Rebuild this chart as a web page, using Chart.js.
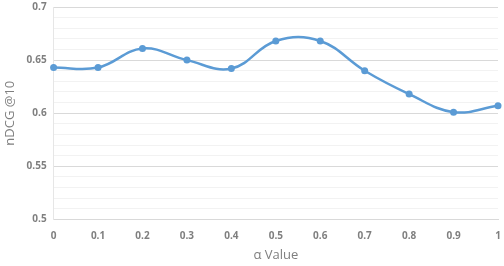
<!DOCTYPE html>
<html>
<head>
<meta charset="utf-8">
<script src="https://cdn.jsdelivr.net/npm/chart.js@4/dist/chart.umd.min.js"></script>
<style>
  html, body { margin: 0; padding: 0; background: #fff; }
  #wrap { width: 504px; height: 266px; }
</style>
</head>
<body>
<div id="wrap"><canvas id="chart" width="504" height="266"></canvas></div>
<script>
// alpha values on the x axis
const alphaLabels = ['0', '0.1', '0.2', '0.3', '0.4', '0.5', '0.6', '0.7', '0.8', '0.9', '1'];
// nDCG@10 for each alpha
const ndcgValues = [0.643, 0.643, 0.661, 0.650, 0.642, 0.668, 0.668, 0.640, 0.618, 0.601, 0.607];
// y axis major ticks
const yMajorTicks = [0.5, 0.55, 0.6, 0.65, 0.7];

const lineBlue = '#5B9BD5';
const tickGray = '#7F7F7F';

function isMajor(v) {
    return yMajorTicks.some(t => Math.abs(t - v) < 1e-6);
}

new Chart(document.getElementById('chart'), {
    type: 'line',
    data: {
        labels: alphaLabels,
        datasets: [{
            label: 'nDCG @10',
            data: ndcgValues,
            borderColor: lineBlue,
            backgroundColor: lineBlue,
            borderWidth: 2.5,
            pointRadius: 3.5,
            pointBorderWidth: 0,
            tension: 0.4,
            fill: false
        }]
    },
    options: {
        responsive: false,
        animation: false,
        layout: { padding: { top: 0, right: 6, bottom: 3, left: 2 } },
        plugins: {
            legend: { display: false },
            tooltip: { enabled: false }
        },
        scales: {
            x: {
                offset: false,
                grid: { display: false },
                border: { display: true, color: '#D9D9D9', width: 1 },
                ticks: {
                    color: tickGray,
                    font: { family: 'Open Sans', size: 10, weight: 'bold' },
                    maxRotation: 0,
                    padding: 3
                },
                title: {
                    display: true,
                    text: 'α Value',
                    color: tickGray,
                    font: { family: 'Open Sans', size: 13 },
                    padding: { top: 2, bottom: 0 }
                }
            },
            y: {
                min: 0.5,
                max: 0.7,
                afterFit: scale => { scale.paddingTop = 7; },
                grid: {
                    color: ctx => isMajor(ctx.tick.value) ? '#D9D9D9' : '#F2F2F2',
                    lineWidth: 1,
                    drawTicks: false
                },
                border: { display: true, color: '#E6E6E6' },
                ticks: {
                    stepSize: 0.01,
                    autoSkip: false,
                    color: tickGray,
                    font: { family: 'Open Sans', size: 10, weight: 'bold' },
                    padding: 7,
                    callback: v => isMajor(v) ? String(Math.round(v * 100) / 100) : ''
                },
                title: {
                    display: true,
                    text: 'nDCG @10',
                    color: tickGray,
                    font: { family: 'Open Sans', size: 13 },
                    padding: { top: 0, bottom: 2 }
                }
            }
        }
    }
});
</script>
</body>
</html>
